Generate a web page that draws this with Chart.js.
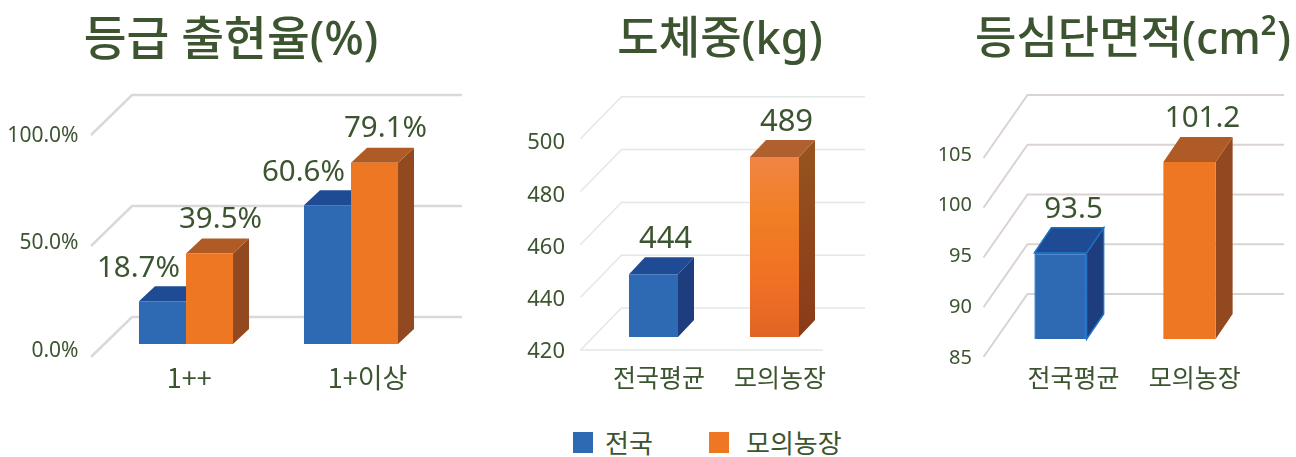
<!DOCTYPE html>
<html lang="ko">
<head>
<meta charset="utf-8">
<title>등급 출현율, 도체중, 등심단면적</title>
<script src="https://cdn.jsdelivr.net/npm/chart.js@4"></script>
<style>
  html, body { margin: 0; padding: 0; background: #fff; }
  body { position: relative; width: 1296px; height: 457px; overflow: hidden; }
  canvas { position: absolute; top: 0; }
  .legend-box { position: absolute; top: 432px; width: 20px; height: 21px; }
  .legend-text { position: absolute; top: 425px; font: 26px/34px "Noto Sans CJK KR", sans-serif; color: #3c5430; white-space: nowrap; }
</style>
</head>
<body>
<canvas id="chart-grade" width="462" height="400" style="left:0"></canvas>
<canvas id="chart-weight" width="400" height="400" style="left:520px"></canvas>
<canvas id="chart-area" width="366" height="400" style="left:925px"></canvas>

<div class="legend-box" style="left:573px;background:#2e6ab4"></div>
<div class="legend-text" style="left:605px">전국</div>
<div class="legend-box" style="left:709px;background:#ee7723"></div>
<div class="legend-text" style="left:746px">모의농장</div>

<script>
// ===== data =====
const gradeCategories = ['1++', '1+이상'];
const gradeNational = [18.7, 60.6];
const gradeFarm = [39.5, 79.1];
const gradeTicks = [0, 50, 100];

const weightCategories = ['전국평균', '모의농장'];
const weightValues = [444, 489];
const weightTicks = [420, 440, 460, 480, 500];

const areaCategories = ['전국평균', '모의농장'];
const areaValues = [93.5, 101.2];
const areaTicks = [85, 90, 95, 100, 105];

// ===== common style =====
const TEXT = '#3c5430';
const FONT = '"Noto Sans", "Noto Sans CJK KR", sans-serif';
const BLUE = { front: '#2e6ab4', top: '#1f4a94', side: '#1e3d7e' };
const ORANGE = { front: '#ee7723', top: '#b05a25', side: '#93491f' };
const CANVAS_H = 400, TOP = 95, BOTTOM = 358;

// min / max that put `value` at pixel y with the given px per unit
function rangeFor(value, pixel, ppu) {
  return { min: value - (BOTTOM - pixel) / ppu, max: value + (pixel - TOP) / ppu };
}

// draws grid wall, bar sides / tops and value labels around the library bars
function depthPlugin(p) {
  return {
    id: 'depth',
    beforeDatasetsDraw(chart) {
      const { ctx, chartArea, scales } = chart;
      const frontX = chartArea.left - 12.5;
      const backX = frontX + p.wall.dx;
      const endX = chartArea.right + 30;
      ctx.save();
      ctx.strokeStyle = p.wall.color;
      ctx.lineWidth = p.wall.width;
      p.ticks.forEach(t => {
        const y = scales.yGrid.getPixelForValue(t);
        ctx.beginPath();
        ctx.moveTo(frontX, y + p.wall.dy);
        ctx.lineTo(backX, y);
        ctx.lineTo(endX, y);
        ctx.stroke();
      });
      if (p.wall.floorEnd) {
        const y = scales.yGrid.getPixelForValue(p.ticks[0]) + p.wall.dy;
        ctx.beginPath();
        ctx.moveTo(frontX, y);
        ctx.lineTo(chartArea.right + p.wall.floorEnd, y);
        ctx.stroke();
      }
      chart.data.datasets.forEach((ds, di) => {
        chart.getDatasetMeta(di).data.forEach((bar, i) => {
          const c = p.colors(di, i);
          const l = bar.x - bar.width / 2, r = bar.x + bar.width / 2;
          const t = bar.y, b = bar.base;
          let side = c.side;
          if (c.sideEnd) {
            side = ctx.createLinearGradient(0, t, 0, b);
            side.addColorStop(0, c.side);
            side.addColorStop(1, c.sideEnd);
          }
          ctx.fillStyle = side;
          ctx.beginPath();
          ctx.moveTo(r, t);
          ctx.lineTo(r + p.depth.dx, t - p.depth.dy);
          ctx.lineTo(r + p.depth.dx, b - p.depth.dy);
          ctx.lineTo(r, b);
          ctx.closePath();
          ctx.fill();
          if (c.edge) { ctx.strokeStyle = c.edge; ctx.lineWidth = 1.5; ctx.stroke(); }
          ctx.fillStyle = c.top;
          ctx.beginPath();
          ctx.moveTo(l, t);
          ctx.lineTo(l + p.depth.dx, t - p.depth.dy);
          ctx.lineTo(r + p.depth.dx, t - p.depth.dy);
          ctx.lineTo(r, t);
          ctx.closePath();
          ctx.fill();
          if (c.edge) ctx.stroke();
        });
      });
      ctx.restore();
    },
    afterDatasetsDraw(chart) {
      const { ctx } = chart;
      ctx.save();
      ctx.fillStyle = TEXT;
      ctx.font = p.valueSize + 'px ' + FONT;
      ctx.textAlign = 'center';
      ctx.textBaseline = 'middle';
      chart.data.datasets.forEach((ds, di) => {
        const off = p.valueOffset[di];
        chart.getDatasetMeta(di).data.forEach((bar, i) => {
          ctx.fillText(p.format(ds.data[i]), bar.x + off.dx, bar.y + off.dy);
        });
      });
      ctx.restore();
    }
  };
}

function buildChart(id, p) {
  return new Chart(document.getElementById(id).getContext('2d'), {
    type: 'bar',
    data: { labels: p.categories, datasets: p.datasets },
    plugins: [depthPlugin(p)],
    options: {
      responsive: false,
      animation: false,
      events: [],
      plugins: {
        legend: { display: false },
        tooltip: { enabled: false },
        title: {
          display: true,
          text: p.title,
          align: p.titleAlign,
          color: TEXT,
          font: { family: FONT, size: p.titleSize, weight: '500', lineHeight: 1.2 },
          padding: { top: 14, bottom: 95 - 14 - p.titleSize * 1.2 }
        }
      },
      scales: {
        // bars
        xBar: { type: 'category', offset: true, display: false },
        yBar: { type: 'linear', display: false, ...p.barRange },
        // back wall of the grid
        yGrid: { type: 'linear', display: false, ...p.gridRange },
        // empty axis that keeps the room on the right, so the title still centres on the canvas
        ySpace: {
          type: 'linear',
          position: 'right',
          grid: { display: false, drawTicks: false },
          border: { display: false },
          ticks: { display: false },
          afterFit: s => { s.width = p.right; }
        },
        // visible axes
        yLabel: {
          type: 'linear',
          position: 'left',
          ...p.labelRange,
          grid: { display: false, drawTicks: false },
          border: { display: false },
          afterBuildTicks: s => { s.ticks = p.ticks.map(value => ({ value })); },
          afterFit: s => { s.width = p.left; },
          ticks: {
            autoSkip: false,
            padding: p.tickPadding,
            color: TEXT,
            font: { family: FONT, size: p.tickSize },
            callback: p.tickFormat
          }
        },
        xLabel: {
          type: 'linear',
          position: 'bottom',
          offset: false,
          min: -0.5,
          max: 1.5,
          grid: { display: false, drawTicks: false },
          border: { display: false },
          afterBuildTicks: s => { s.ticks = p.categoryAt.map(value => ({ value })); },
          afterFit: s => { s.height = CANVAS_H - BOTTOM; },
          ticks: {
            autoSkip: false,
            maxRotation: 0,
            padding: 4,
            color: TEXT,
            font: { family: '"Noto Sans CJK KR", sans-serif', size: p.categorySize },
            callback: (v, i) => p.categories[i]
          }
        }
      }
    }
  });
}

/* ================= 등급 출현율 ================= */
buildChart('chart-grade', {
  title: '등급 출현율(%)', titleAlign: 'center', titleSize: 46.5,
  categories: gradeCategories, categorySize: 27,
  categoryAt: [0.02, 1.1],
  ticks: gradeTicks,
  tickFormat: v => v.toFixed(1) + '%',
  tickSize: 21, tickPadding: 25,
  left: 103.5, right: 28.5,
  barRange: rangeFor(0, 344, 2.29),
  gridRange: rangeFor(0, 317, 2.22),
  labelRange: rangeFor(0, 351, 2.15),
  wall: { dx: 41, dy: 40, color: '#d9d9d9', width: 2.5 },
  depth: { dx: 16, dy: 15 },
  colors: di => di === 0 ? BLUE : ORANGE,
  valueSize: 29.5,
  valueOffset: [{ dx: -24, dy: -33 }, { dx: 11, dy: -34 }],
  format: v => v.toFixed(1) + '%',
  datasets: [
    { label: '전국', data: gradeNational, backgroundColor: BLUE.front, xAxisID: 'xBar', yAxisID: 'yBar', base: 0, categoryPercentage: 0.57, barPercentage: 1 },
    { label: '모의농장', data: gradeFarm, backgroundColor: ORANGE.front, xAxisID: 'xBar', yAxisID: 'yBar', base: 0, categoryPercentage: 0.57, barPercentage: 1 }
  ]
});

/* ================= 도체중 ================= */
buildChart('chart-weight', {
  title: '도체중(kg)', titleAlign: 'center', titleSize: 45,
  categories: weightCategories, categorySize: 25,
  categoryAt: [0.045, 1.045],
  ticks: weightTicks,
  tickFormat: v => String(v),
  tickSize: 22, tickPadding: 28,
  left: 73, right: 85,
  barRange: rangeFor(420, 337, 2.61),
  gridRange: rangeFor(420, 308, 2.64),
  labelRange: rangeFor(420, 352, 2.61),
  wall: { dx: 41, dy: 42, color: '#e3e7e8', width: 1.5, floorEnd: -12 },
  depth: { dx: 16, dy: 17 },
  colors: (di, i) => i === 0
    ? BLUE
    : { top: '#b0602f', side: '#96521f', sideEnd: '#8a3a18' },
  valueSize: 31,
  valueOffset: [{ dx: 12, dy: -35 }],
  format: v => String(v),
  datasets: [{
    data: weightValues,
    backgroundColor: c => {
      if (c.dataIndex === 0) return BLUE.front;
      const { chart } = c;
      if (!chart.chartArea) return ORANGE.front;
      const yBar = chart.scales.yBar;
      const g = chart.ctx.createLinearGradient(0, yBar.getPixelForValue(weightValues[1]), 0, yBar.getPixelForValue(420));
      g.addColorStop(0, '#f08545');
      g.addColorStop(0.3, '#f17f25');
      g.addColorStop(0.7, '#f07025');
      g.addColorStop(1, '#e06524');
      return g;
    },
    xAxisID: 'xBar', yAxisID: 'yBar', base: 420,
    categoryPercentage: 0.405, barPercentage: 1
  }]
});

/* ================= 등심단면적 ================= */
buildChart('chart-area', {
  title: '등심단면적(cm²)', titleAlign: 'end', titleSize: 45,
  categories: areaCategories, categorySize: 25,
  categoryAt: [0.1, 1.04],
  ticks: areaTicks,
  tickFormat: v => String(v),
  tickSize: 20, tickPadding: 24,
  left: 71, right: 37,
  barRange: rangeFor(86.2, 339, 11.8),
  gridRange: rangeFor(85, 294, 9.95),
  labelRange: rangeFor(85, 358, 10.15),
  wall: { dx: 44, dy: 63, color: '#dad3d1', width: 2 },
  depth: { dx: 17, dy: 25 },
  colors: (di, i) => i === 0 ? { ...BLUE, edge: '#1b6fc4' } : ORANGE,
  valueSize: 29.5,
  valueOffset: [{ dx: 13, dy: -43 }],
  format: v => v.toFixed(1),
  datasets: [{
    data: areaValues,
    backgroundColor: [BLUE.front, ORANGE.front],
    borderColor: ['#1b6fc4', ORANGE.front],
    borderWidth: [1.5, 0],
    xAxisID: 'xBar', yAxisID: 'yBar', base: 86.2,
    categoryPercentage: 0.405, barPercentage: 1
  }]
});
</script>
</body>
</html>
